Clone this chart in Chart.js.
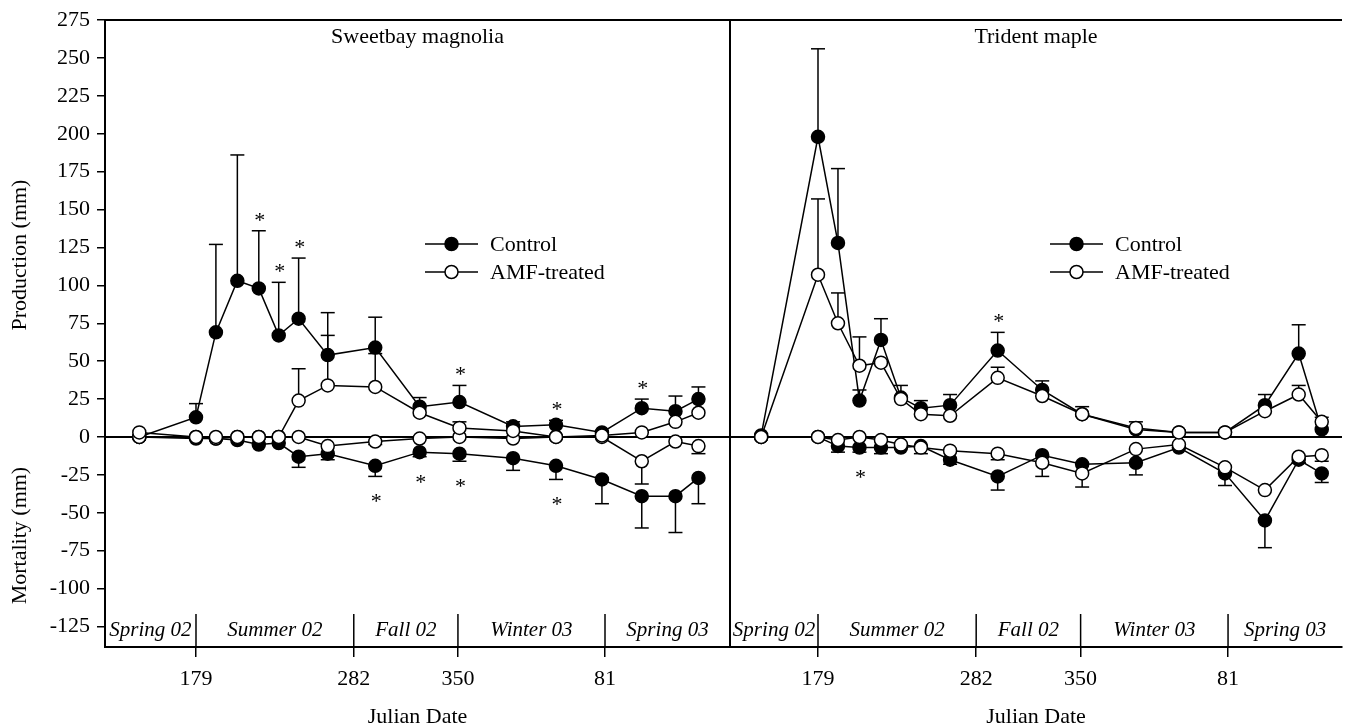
<!DOCTYPE html>
<html>
<head>
<meta charset="utf-8">
<script src="https://cdn.jsdelivr.net/npm/chart.js@4.4.1/dist/chart.umd.min.js"></script>
<style>
  html, body { margin: 0; padding: 0; background: #fff; }
  #wrap { position: relative; width: 1345px; height: 728px; overflow: hidden; }
  canvas { position: absolute; top: 0; }
  #left { left: 0; }
  #right { left: 730px; }
</style>
</head>
<body>
<div id="wrap">
  <canvas id="left" width="732" height="728"></canvas>
  <canvas id="right" width="615" height="728"></canvas>
</div>
<script>
// sampling dates, counted in days from 1 Jan 2002 (day 81 of 2003 -> 446)
const sampleDays = [142, 179, 192, 206, 220, 233, 246, 265, 296, 325, 351, 386, 414, 444, 470, 492, 507];
const xTickDays = [179, 282, 350, 446];
const xTickLabels = ['179', '282', '350', '81'];
const seasons = ['Spring 02', 'Summer 02', 'Fall 02', 'Winter 03', 'Spring 03'];
const yTicks = [-125, -100, -75, -50, -25, 0, 25, 50, 75, 100, 125, 150, 175, 200, 225, 250, 275];

// Sweetbay magnolia
const magCtrlProd    = [0, 13, 69, 103, 98, 67, 78, 54, 59, 20, 23, 7, 8, 3, 19, 17, 25];
const magCtrlProdErr = [null, 22, 127, 186, 136, 102, 118, 82, 79, 26, 34, 10, 11, null, 25, 27, 33];
const magAmfProd     = [3, 0, 0, 0, 0, 0, 24, 34, 33, 16, 6, 4, 0, 1, 3, 10, 16];
const magAmfProdErr  = [null, null, null, null, null, null, 45, 67, 55, null, 10, null, null, null, null, null, null];
const magCtrlMort    = [0, -1, -1, -2, -5, -4, -13, -11, -19, -10, -11, -14, -19, -28, -39, -39, -27];
const magCtrlMortErr = [null, null, null, null, null, null, -20, -15, -26, -13, -16, -22, -28, -44, -60, -63, -44];
const magAmfMort     = [0, 0, -1, 0, 0, 0, 0, -6, -3, -1, 0, -1, 0, 0, -16, -3, -6];
const magAmfMortErr  = [null, null, null, null, null, null, null, null, -5, null, null, null, null, null, -31, null, -11];
const magProdStars = [4, 5, 6, 10, 12, 14];
const magMortStars = [8, 9, 10, 12];

// Trident maple
const mapCtrlProd    = [1, 198, 128, 24, 64, 26, 19, 21, 57, 31, 15, 5, 3, 3, 21, 55, 5];
const mapCtrlProdErr = [null, 256, 177, 31, 78, 34, 24, 28, 69, 37, 20, null, null, null, 28, 74, null];
const mapAmfProd     = [0, 107, 75, 47, 49, 25, 15, 14, 39, 27, 15, 6, 3, 3, 17, 28, 10];
const mapAmfProdErr  = [null, 157, 95, 66, null, null, null, null, 46, null, null, 10, null, null, null, 34, 13];
const mapCtrlMort    = [0, 0, -6, -7, -7, -7, -6, -15, -26, -12, -18, -17, -7, -24, -55, -15, -24];
const mapCtrlMortErr = [null, null, -10, -10, -11, null, null, -18, -35, null, null, -25, null, -32, -73, -17, -30];
const mapAmfMort     = [0, 0, -2, 0, -2, -5, -7, -9, -11, -17, -24, -8, -5, -20, -35, -13, -12];
const mapAmfMortErr  = [null, null, null, null, null, null, -11, null, -15, -26, -33, null, null, null, null, -17, -16];
const mapProdStars = [8];
const mapMortStars = [3];

const FONT = 'Liberation Serif, Times New Roman, serif';

function pts(vals) {
  return sampleDays.map((d, i) => ({ x: d, y: vals[i] }));
}

function series(label, vals, filled) {
  return {
    label: label,
    data: pts(vals),
    borderColor: '#000',
    borderWidth: 1.5,
    tension: 0,
    pointRadius: 6.5,
    pointBorderWidth: 1.5,
    pointBorderColor: '#000',
    pointBackgroundColor: filled ? '#000' : '#fff',
    order: filled ? 1 : 0
  };
}

function hline(ctx, x1, y1, x2, y2) {
  ctx.beginPath();
  ctx.moveTo(x1, y1);
  ctx.lineTo(x2, y2);
  ctx.stroke();
}

// error bars, zero line, stars, frame, season band, legend and titles
const decorPlugin = {
  id: 'decor',
  beforeDatasetsDraw(chart, args, o) {
    const ctx = chart.ctx, a = chart.chartArea, xs = chart.scales.x, ys = chart.scales.y;
    ctx.save();
    ctx.strokeStyle = '#000';
    ctx.lineWidth = 1.5;
    o.errors.forEach(([vals, errs]) => {
      errs.forEach((e, i) => {
        if (e === null) return;
        const px = xs.getPixelForValue(sampleDays[i]);
        const py0 = ys.getPixelForValue(vals[i]);
        const py1 = ys.getPixelForValue(e);
        hline(ctx, px, py0, px, py1);
        hline(ctx, px - 7, py1, px + 7, py1);
      });
    });
    ctx.lineWidth = 2;
    const y0 = ys.getPixelForValue(0);
    hline(ctx, a.left, y0, a.right, y0);
    ctx.restore();
  },
  afterDatasetsDraw(chart, args, o) {
    const ctx = chart.ctx, a = chart.chartArea, xs = chart.scales.x, ys = chart.scales.y;
    ctx.save();
    ctx.strokeStyle = '#000';
    ctx.fillStyle = '#000';

    // significance stars
    ctx.font = '22px ' + FONT;
    ctx.textAlign = 'center';
    ctx.textBaseline = 'alphabetic';
    o.stars.forEach(([vals, errs, idx, up]) => {
      idx.forEach(i => {
        const v = errs[i] !== null ? errs[i] : vals[i];
        const px = xs.getPixelForValue(sampleDays[i]);
        const py = ys.getPixelForValue(v);
        ctx.fillText('*', px + 1, up ? py - 4 : py + 32);
      });
    });

    // frame: top edge (and right edge for the left panel)
    ctx.lineWidth = 2;
    hline(ctx, a.left, a.top, a.right, a.top);
    if (o.rightEdge) hline(ctx, a.right, a.top, a.right, a.bottom);

    // season band dividers and labels
    ctx.lineWidth = 1.5;
    const edges = [a.left].concat(xTickDays.map(d => xs.getPixelForValue(d)), [a.right]);
    xTickDays.forEach(d => {
      const px = xs.getPixelForValue(d);
      hline(ctx, px, a.bottom - 33, px, a.bottom);
    });
    ctx.font = 'italic 21px ' + FONT;
    ctx.textBaseline = 'middle';
    seasons.forEach((s, i) => {
      ctx.fillText(s, (edges[i] + edges[i + 1]) / 2, a.bottom - 17);
    });

    // panel title
    ctx.font = '22px ' + FONT;
    ctx.textBaseline = 'alphabetic';
    ctx.fillText(o.title, (a.left + a.right) / 2, a.top + 23);

    // legend
    const lx = a.left + 320;
    [['Control', true], ['AMF-treated', false]].forEach(([txt, filled], k) => {
      const ly = a.top + 224 + k * 28;
      ctx.lineWidth = 1.5;
      hline(ctx, lx, ly, lx + 53, ly);
      ctx.beginPath();
      ctx.arc(lx + 26.5, ly, 6.5, 0, Math.PI * 2);
      ctx.fillStyle = filled ? '#000' : '#fff';
      ctx.fill();
      ctx.stroke();
      ctx.fillStyle = '#000';
      ctx.textAlign = 'left';
      ctx.textBaseline = 'middle';
      ctx.fillText(txt, lx + 65, ly + 1);
    });

    // split y axis title
    if (o.yTitles) {
      ctx.textAlign = 'center';
      ctx.textBaseline = 'middle';
      [['Production (mm)', 120], ['Mortality (mm)', -65]].forEach(([txt, v]) => {
        ctx.save();
        ctx.translate(20, ys.getPixelForValue(v));
        ctx.rotate(-Math.PI / 2);
        ctx.fillText(txt, 0, 0);
        ctx.restore();
      });
    }
    ctx.restore();
  }
};

function makeChart(id, cfg) {
  return new Chart(document.getElementById(id), {
    type: 'line',
    data: {
      datasets: [
        series('Control', cfg.ctrlProd, true),
        series('AMF-treated', cfg.amfProd, false),
        series('Control', cfg.ctrlMort, true),
        series('AMF-treated', cfg.amfMort, false)
      ]
    },
    options: {
      responsive: false,
      animation: false,
      devicePixelRatio: 1,
      events: [],
      layout: { autoPadding: false, padding: { top: 20, right: cfg.padRight, bottom: 0, left: 0 } },
      scales: {
        x: {
          type: 'linear',
          min: cfg.xMin,
          max: cfg.xMax,
          afterFit: s => { s.height = 81; s.paddingLeft = 0; s.paddingRight = 0; },
          afterBuildTicks: s => { s.ticks = xTickDays.map(v => ({ value: v })); },
          ticks: {
            color: '#000',
            font: { family: FONT, size: 22 },
            padding: 9,
            maxRotation: 0,
            callback: v => xTickLabels[xTickDays.indexOf(v)]
          },
          grid: { drawOnChartArea: false, drawTicks: true, tickLength: 10, color: '#000', lineWidth: 1.5 },
          border: { display: true, color: '#000', width: 2 },
          title: {
            display: true,
            text: 'Julian Date',
            color: '#000',
            font: { family: FONT, size: 22, lineHeight: 1 },
            padding: { top: 0, bottom: 0 }
          }
        },
        y: {
          display: cfg.showY,
          min: -138.5,
          max: 275,
          afterFit: s => { s.width = cfg.showY ? 105 : 0; s.paddingTop = 0; s.paddingBottom = 0; },
          afterBuildTicks: s => { s.ticks = yTicks.map(v => ({ value: v })); },
          ticks: { color: '#000', font: { family: FONT, size: 22 }, padding: 7 },
          grid: { drawOnChartArea: false, drawTicks: true, tickLength: 8, color: '#000', lineWidth: 1.5 },
          border: { display: true, color: '#000', width: 2 }
        }
      },
      plugins: {
        legend: { display: false },
        tooltip: { enabled: false },
        decor: {
          title: cfg.title,
          rightEdge: cfg.rightEdge,
          yTitles: cfg.showY,
          errors: [
            [cfg.ctrlProd, cfg.ctrlProdErr],
            [cfg.amfProd, cfg.amfProdErr],
            [cfg.ctrlMort, cfg.ctrlMortErr],
            [cfg.amfMort, cfg.amfMortErr]
          ],
          stars: [
            [cfg.ctrlProd, cfg.ctrlProdErr, cfg.prodStars, true],
            [cfg.ctrlMort, cfg.ctrlMortErr, cfg.mortStars, false]
          ]
        }
      }
    },
    plugins: [decorPlugin]
  });
}

makeChart('left', {
  title: 'Sweetbay magnolia',
  xMin: 119.6, xMax: 527.6, padRight: 2, showY: true, rightEdge: true,
  ctrlProd: magCtrlProd, ctrlProdErr: magCtrlProdErr,
  amfProd: magAmfProd, amfProdErr: magAmfProdErr,
  ctrlMort: magCtrlMort, ctrlMortErr: magCtrlMortErr,
  amfMort: magAmfMort, amfMortErr: magAmfMortErr,
  prodStars: magProdStars, mortStars: magMortStars
});

makeChart('right', {
  title: 'Trident maple',
  xMin: 121.7, xMax: 520.2, padRight: 3, showY: false, rightEdge: false,
  ctrlProd: mapCtrlProd, ctrlProdErr: mapCtrlProdErr,
  amfProd: mapAmfProd, amfProdErr: mapAmfProdErr,
  ctrlMort: mapCtrlMort, ctrlMortErr: mapCtrlMortErr,
  amfMort: mapAmfMort, amfMortErr: mapAmfMortErr,
  prodStars: mapProdStars, mortStars: mapMortStars
});
</script>
</body>
</html>
